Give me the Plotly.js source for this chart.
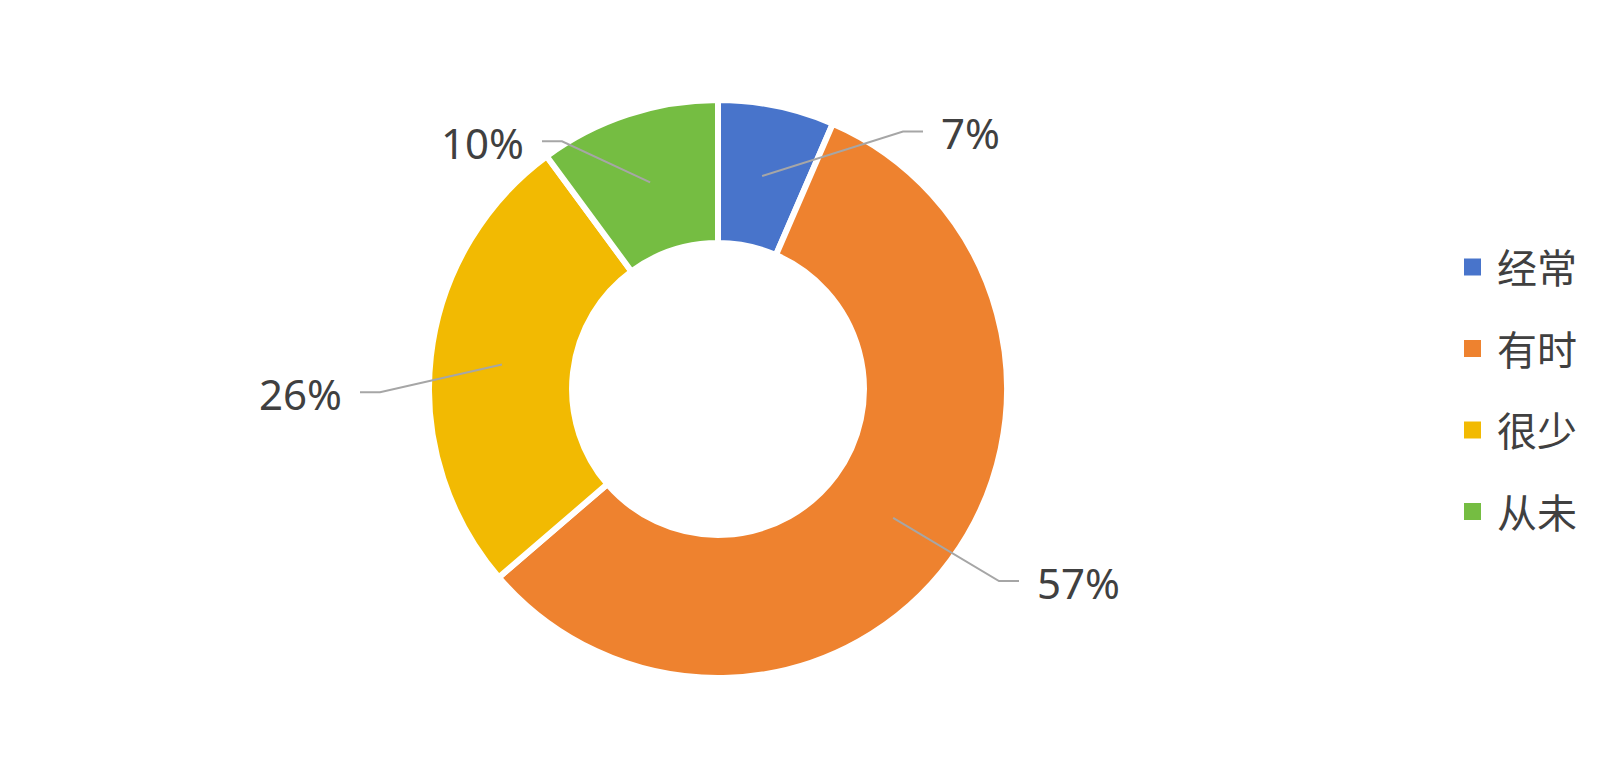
<!DOCTYPE html>
<html><head><meta charset="utf-8">
<script src="https://cdn.plot.ly/plotly-3.0.1.min.js"></script>
<style>html,body{margin:0;padding:0;background:#fff}#chart{width:1624px;height:778px}</style>
</head><body><div id="chart"></div>
<script>
// ---- data ----
const categories = ['经常', '有时', '很少', '从未'];
const values = [6.5, 57.2, 26.2, 10.1];
const percentLabels = ['7%', '57%', '26%', '10%'];

// ---- styling / layout ----
const colors = ['#4874CB', '#EE822F', '#F2BA02', '#75BD42'];
const elbowOffsets = [[185, -257.5], [281, 192], [-338, 3.3], [-156, -247.7]]; // label elbow relative to pie centre, px
const textColor = '#404040';
const W = 1624, H = 778;
const cx = 718, cy = 389, R = 289, holeFrac = 0.505;
const borderW = 6;
const labelFont = 'Noto Sans, Open Sans, sans-serif';
const cjkFont = 'Noto Sans CJK SC, sans-serif';

const domain = {x: [(cx - R) / W, (cx + R) / W], y: [1 - (cy + R) / H, 1 - (cy - R) / H]};
const px = x => x / W, py = y => 1 - y / H;

const total = values.reduce((a, b) => a + b, 0);
const rOut = R - borderW / 2, rIn = R * holeFrac + borderW / 2;
const rMid = (rOut + rIn) / 2;

const shapes = [], annotations = [];
let cum = 0;
values.forEach((v, i) => {
  const theta = 2 * Math.PI * (cum + v / 2) / total;
  cum += v;
  const sx = cx + rMid * Math.sin(theta), sy = cy - rMid * Math.cos(theta);
  const ex = cx + elbowOffsets[i][0], ey = cy + elbowOffsets[i][1];
  const dir = elbowOffsets[i][0] >= 0 ? 1 : -1;
  const hx = ex + dir * 20;
  shapes.push({type: 'path', xref: 'paper', yref: 'paper',
    path: `M ${px(sx)} ${py(sy)} L ${px(ex)} ${py(ey)} L ${px(hx)} ${py(ey)}`,
    line: {color: '#A6A6A6', width: 2}});
  annotations.push({xref: 'paper', yref: 'paper', x: px(hx + dir * 16), y: py(ey + 1.5),
    xanchor: dir > 0 ? 'left' : 'right', yanchor: 'middle', showarrow: false,
    text: percentLabels[i], font: {family: labelFont, size: 42, color: textColor}});
});

// custom legend
const legTop = 267, legStep = 81.5, sq = 17, sqX = 1464, txtX = 1495;
categories.forEach((c, i) => {
  const yc = legTop + i * legStep;
  shapes.push({type: 'rect', xref: 'paper', yref: 'paper',
    x0: px(sqX), x1: px(sqX + sq), y0: py(yc - sq / 2), y1: py(yc + sq / 2),
    fillcolor: colors[i], line: {width: 0}});
  annotations.push({xref: 'paper', yref: 'paper', x: px(txtX), y: py(yc - 1),
    xanchor: 'left', yanchor: 'middle', showarrow: false,
    text: c, font: {family: cjkFont, size: 40, color: textColor}});
});

const trace = {
  type: 'pie', values: values, labels: categories, sort: false,
  direction: 'clockwise', rotation: 0, hole: holeFrac,
  marker: {colors: colors, line: {color: '#FFFFFF', width: borderW}},
  textinfo: 'none', hoverinfo: 'label+percent', domain: domain, showlegend: false
};

Plotly.newPlot('chart', [trace], {
  width: W, height: H, margin: {l: 0, r: 0, t: 0, b: 0},
  paper_bgcolor: '#FFFFFF', plot_bgcolor: '#FFFFFF', showlegend: false,
  shapes: shapes, annotations: annotations
}, {displayModeBar: false});
</script>
</body></html>
